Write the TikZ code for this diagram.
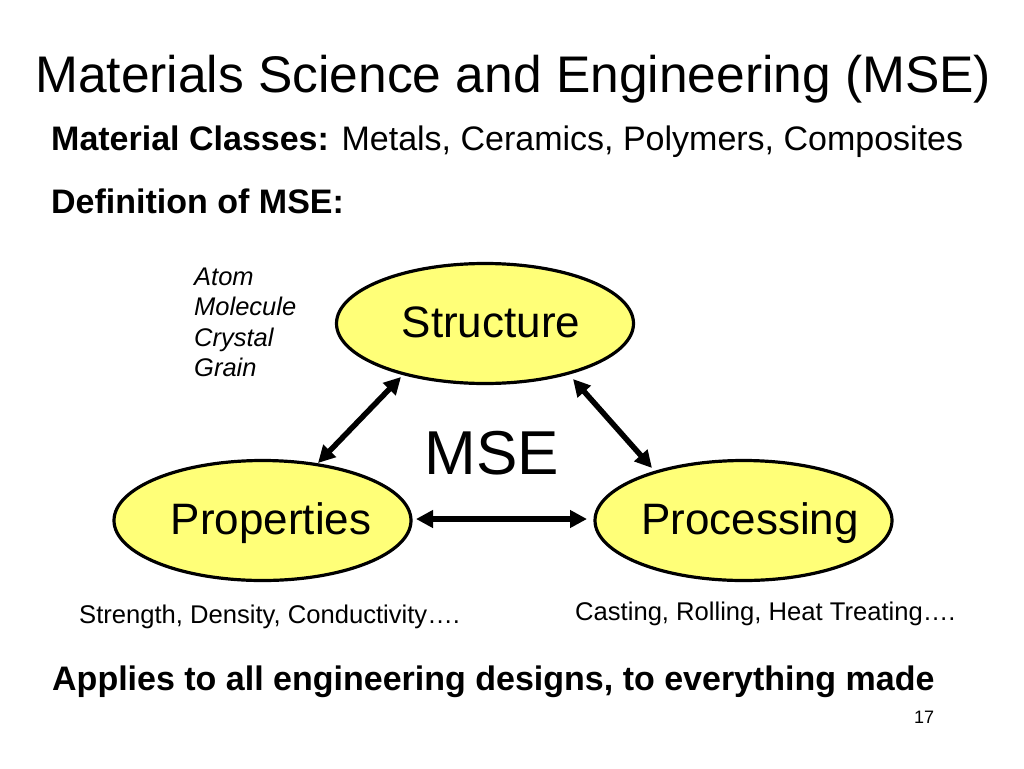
\documentclass[tikz,border=0pt]{standalone}
\usepackage{fontspec}
\setmainfont{Liberation Sans}
\usetikzlibrary{arrows.meta,shapes.geometric}
\definecolor{ellfill}{RGB}{255,255,120}
\tikzset{
  ell/.style={draw=black, line width=3.2pt, fill=ellfill, ellipse, minimum width=297pt, minimum height=120pt, inner sep=0pt},
  elltext/.style={anchor=base, inner sep=0pt, font=\fontsize{44}{50}\selectfont},
  txt/.style={anchor=base west, inner sep=0pt},
  listtxt/.style={txt, font=\fontsize{25.5}{30}\selectfont\itshape},
  dbl/.style={line width=5.5pt, {Triangle[length=17pt,width=17pt]}-{Triangle[length=17pt,width=17pt]}}
}
\begin{document}
\begin{tikzpicture}[x=1pt,y=-1pt]
\useasboundingbox (0,0) rectangle (1024,768);
\fill[white] (0,0) rectangle (1024,768);

% title and texts
\node[txt, font=\fontsize{51.5}{60}\selectfont] (title) at (35,92) {Materials Science and Engineering (MSE)};
\node[txt, font=\fontsize{34}{40}\selectfont] (classes) at (51,150) {\textbf{Material Classes:} Metals, Ceramics, Polymers, Composites};
\node[txt, font=\fontsize{34}{40}\selectfont\bfseries] (defn) at (51,213) {Definition of MSE:};

% ellipses
\node[ell] (st) at (485,323.5) {};
\node[ell] (pr) at (262.5,520.5) {};
\node[ell] (pc) at (743.5,520.5) {};
\node[elltext] (stt) at (491,337) {Structure};
\node[elltext] (prt) at (271,534) {Properties};
\node[elltext] (pct) at (750,534) {Processing};

% centre label
\node[anchor=base, inner sep=0pt, font=\fontsize{62}{70}\selectfont] (mse) at (492,474) {MSE};

% structure examples
\node[listtxt] (atom) at (194,285) {Atom};
\node[listtxt] (mol) at (194,315.5) {Molecule};
\node[listtxt] (cry) at (194,346) {Crystal};
\node[listtxt] (gra) at (194,376.5) {Grain};

% connectors
\coordinate (a1) at (401,377);
\coordinate (a2) at (318,463);
\coordinate (b1) at (573,379);
\coordinate (b2) at (652,468);
\coordinate (c1) at (416,519);
\coordinate (c2) at (587,519);
\draw[dbl] (a1) -- (a2);
\draw[dbl] (b1) -- (b2);
\draw[dbl] (c1) -- (c2);

% bottom texts
\node[txt, font=\fontsize{25.6}{30}\selectfont] (strength) at (79,623) {Strength, Density, Conductivity….};
\node[txt, font=\fontsize{25.6}{30}\selectfont] (casting) at (575,620) {Casting, Rolling, Heat Treating….};
\node[txt, font=\fontsize{34}{40}\selectfont\bfseries] (applies) at (52,690) {Applies to all engineering designs, to everything made};
\node[txt, font=\fontsize{18}{20}\selectfont] (page) at (914,723) {17};
\end{tikzpicture}
\end{document}
